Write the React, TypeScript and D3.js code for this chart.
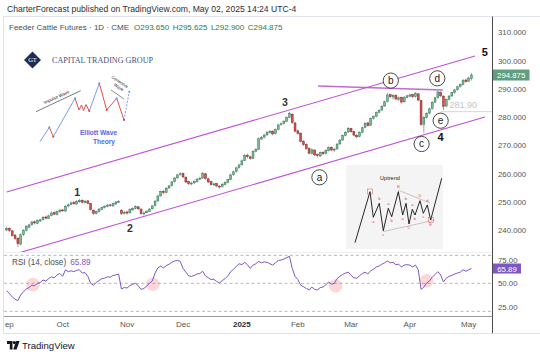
import React from "react";
import * as d3 from "d3";

// ---------- DATA ----------
// Daily OHLC, Feeder Cattle Futures (Sep 3 2024 .. May 2 2025)
const ohlc: [number, number, number, number][] = [
  [240.0, 241.2, 239.5, 240.5], [240.6, 241.0, 239.3, 239.8], [239.7, 240.0, 237.6, 238.0], [238.2, 238.6, 236.4, 237.0],
  [237.1, 237.4, 234.0, 235.2], [235.0, 238.8, 234.6, 238.3], [238.4, 240.3, 237.9, 239.8], [239.9, 241.7, 239.5, 241.2],
  [241.0, 242.2, 240.6, 241.8], [241.9, 243.3, 241.5, 242.8], [242.9, 243.4, 242.0, 242.5], [242.4, 243.8, 242.1, 243.3],
  [243.2, 244.0, 242.8, 243.6], [243.7, 245.0, 243.3, 244.5], [244.6, 245.1, 243.8, 244.2], [244.1, 245.5, 243.9, 245.0],
  [245.1, 246.6, 244.8, 246.0], [246.2, 246.5, 245.2, 245.6], [245.5, 246.9, 245.1, 246.5], [246.6, 247.6, 246.1, 247.0],
  [247.1, 247.5, 246.3, 246.8], [246.7, 248.8, 246.5, 248.4], [248.5, 249.4, 248.0, 248.9], [249.0, 250.1, 248.7, 249.6],
  [249.7, 250.2, 248.9, 249.3], [249.2, 250.6, 249.0, 250.1], [250.0, 251.0, 249.6, 250.4], [250.5, 250.9, 249.4, 249.8],
  [249.7, 250.7, 249.3, 250.2], [250.3, 250.6, 249.1, 249.5], [249.4, 249.6, 246.9, 247.2], [247.0, 247.3, 245.4, 245.9],
  [245.8, 246.9, 245.5, 246.6], [246.5, 247.8, 246.2, 247.4], [247.3, 248.3, 247.0, 247.9], [248.0, 248.8, 247.6, 248.4],
  [248.3, 249.3, 248.0, 248.8], [248.9, 249.2, 248.1, 248.6], [248.5, 249.7, 248.3, 249.3], [249.2, 250.3, 248.9, 249.9],
  [249.8, 250.6, 249.5, 250.1], [247.0, 247.4, 245.3, 245.8], [245.9, 246.8, 245.5, 246.3], [246.4, 246.7, 245.4, 246.0],
  [246.1, 247.6, 245.8, 247.2], [247.1, 248.0, 246.8, 247.6], [247.7, 248.7, 247.3, 248.3], [248.2, 248.5, 247.1, 247.5],
  [247.4, 247.6, 245.4, 245.8], [245.7, 246.5, 245.2, 246.0], [246.1, 247.0, 245.8, 246.7], [246.6, 247.8, 246.3, 247.4],
  [247.5, 248.9, 247.2, 248.5], [248.6, 250.6, 248.3, 250.2], [250.3, 252.4, 250.0, 252.0], [252.1, 254.0, 251.8, 253.6],
  [253.7, 254.2, 252.7, 253.2], [253.3, 255.2, 253.0, 254.8], [254.9, 256.0, 254.5, 255.6], [255.7, 257.4, 255.4, 257.0],
  [257.1, 258.8, 256.8, 258.4], [258.5, 259.9, 258.1, 259.5], [259.6, 260.5, 259.2, 259.9], [260.0, 260.3, 258.4, 258.8],
  [258.7, 259.0, 256.6, 257.0], [257.1, 257.5, 255.9, 256.4], [256.3, 257.1, 255.9, 256.6], [256.7, 257.6, 256.2, 257.2],
  [257.1, 258.4, 256.8, 258.0], [258.1, 258.9, 257.6, 258.3], [258.4, 260.6, 258.0, 260.0], [259.9, 260.2, 257.8, 258.2],
  [258.1, 258.5, 256.6, 257.0], [257.1, 257.4, 255.7, 256.1], [256.0, 256.8, 255.6, 256.3], [256.4, 256.7, 255.1, 255.6],
  [255.5, 256.0, 254.6, 255.3], [255.4, 256.6, 255.0, 256.2], [256.1, 257.2, 255.8, 256.8], [256.9, 258.2, 256.5, 257.8],
  [257.9, 259.9, 257.6, 259.5], [259.6, 261.0, 259.2, 260.6], [260.7, 262.4, 260.3, 262.0], [262.1, 263.5, 261.7, 263.0],
  [263.1, 265.0, 262.8, 264.5], [264.6, 266.9, 264.3, 266.4], [266.5, 267.0, 265.4, 266.0], [265.9, 266.4, 264.9, 265.3],
  [265.4, 268.2, 265.1, 267.8], [267.9, 269.0, 267.5, 268.5], [268.6, 272.8, 268.3, 272.3], [272.2, 273.3, 271.8, 272.8],
  [272.9, 274.1, 272.4, 273.6], [273.7, 275.1, 273.3, 274.6], [274.5, 275.4, 274.1, 274.9], [275.0, 275.3, 273.5, 274.0],
  [274.1, 275.9, 273.8, 275.5], [275.6, 277.6, 275.3, 277.2], [277.3, 278.1, 276.9, 277.6], [277.7, 278.9, 277.3, 278.4],
  [278.5, 280.2, 278.1, 279.8], [279.9, 281.8, 279.6, 281.2], [281.0, 281.3, 277.6, 278.0], [277.9, 278.3, 274.6, 275.0],
  [275.1, 275.6, 273.8, 274.2], [274.3, 274.6, 271.0, 271.4], [271.3, 271.9, 269.8, 270.2], [270.3, 270.7, 268.4, 268.8],
  [268.9, 269.3, 266.8, 267.2], [267.1, 268.9, 266.7, 268.4], [268.3, 268.6, 266.1, 266.6], [266.7, 267.1, 265.6, 266.3],
  [266.2, 267.8, 265.9, 267.4], [267.5, 267.9, 266.6, 267.0], [267.1, 268.6, 266.8, 268.2], [268.1, 269.6, 267.8, 269.2],
  [269.3, 269.6, 267.9, 268.3], [268.4, 269.1, 267.6, 268.6], [268.7, 270.8, 268.4, 270.4], [270.5, 272.2, 270.1, 271.8],
  [271.9, 273.8, 271.5, 273.4], [273.5, 275.0, 273.1, 274.6], [274.7, 276.5, 274.4, 276.0], [275.9, 276.2, 274.4, 274.8],
  [274.9, 275.2, 273.2, 273.6], [273.5, 274.0, 272.5, 273.0], [273.1, 274.9, 272.8, 274.5], [274.6, 276.6, 274.3, 276.2],
  [276.3, 278.2, 276.0, 277.8], [277.9, 278.3, 276.6, 277.0], [277.1, 279.8, 276.8, 279.4], [279.5, 280.6, 279.1, 280.2],
  [280.3, 282.0, 279.9, 281.6], [281.7, 282.8, 281.3, 282.4], [282.5, 284.2, 282.1, 283.8], [283.9, 285.8, 283.6, 285.4],
  [285.5, 288.6, 285.2, 287.8], [287.9, 288.3, 286.6, 287.2], [287.1, 288.1, 286.2, 287.6], [287.7, 288.0, 285.9, 286.4],
  [286.3, 287.3, 285.6, 286.8], [286.9, 287.2, 284.8, 285.3], [285.4, 287.4, 285.1, 286.9], [287.0, 287.9, 286.6, 287.5],
  [287.4, 288.3, 287.0, 287.8], [287.9, 288.2, 286.7, 287.2], [287.3, 288.8, 286.9, 288.3], [288.2, 288.5, 285.6, 286.0],
  [285.8, 286.1, 276.8, 277.4], [277.3, 280.3, 274.3, 279.8], [279.9, 281.7, 279.4, 281.3], [281.4, 283.3, 281.0, 282.9],
  [283.0, 285.6, 282.6, 285.2], [285.3, 287.2, 284.9, 286.8], [286.9, 289.3, 286.5, 288.9], [288.8, 289.1, 287.0, 287.5],
  [287.4, 287.7, 282.4, 283.8], [283.9, 286.6, 283.5, 286.2], [286.3, 287.8, 285.9, 287.4], [287.5, 289.0, 287.1, 288.6],
  [288.7, 290.0, 288.3, 289.6], [289.7, 291.1, 289.3, 290.7], [290.8, 291.9, 290.4, 291.5], [291.6, 293.5, 291.2, 293.0],
  [293.1, 293.6, 292.1, 292.6], [292.7, 294.3, 292.4, 293.8], [293.65, 295.625, 292.9, 294.875],
];

// RSI(14, close)
const rsiValues: number[] = [
  42, 39, 35.5, 33, 31.5, 37.5, 41, 44, 45.5, 48, 47.5, 50, 51, 53.5, 52.5, 55, 57, 56, 59, 60.5,
  57.5, 64.5, 62.5, 63.5, 62.5, 64, 64.5, 61, 61.5, 57.5, 50, 48, 51, 53, 55, 55.5, 57, 56.5, 58.5, 59,
  59.8, 44, 45.5, 45, 47.5, 49, 50, 47.5, 43.5, 44.5, 47, 50, 52.5, 61, 66.5, 68.5, 66.5, 69, 70.5, 72.5,
  74, 74.5, 73.5, 66, 62, 58, 57.5, 58.5, 60, 60.5, 63, 58, 56, 54, 54.5, 52, 50.5, 53, 55, 58,
  62.5, 65, 68, 71, 70, 72.5, 70, 66, 69.5, 71, 73.5, 72, 73, 72.5, 71, 69.5, 72, 74.5, 75, 76,
  77.5, 79, 66, 57.5, 54, 48, 46.5, 44.5, 43, 46, 43.5, 43, 45.5, 46, 48.5, 51.5, 49, 50, 55, 57.5,
  59.5, 61, 62, 58.5, 56, 55.5, 58, 60.5, 62, 60, 63.5, 65, 67.5, 68.5, 70.5, 72, 74, 72, 72.5, 70,
  70.5, 67.5, 69.5, 70, 69.5, 67.5, 69.5, 64.5, 43.5, 46, 50.5, 52.5, 56.5, 59.5, 62.5, 59, 51.5, 55.5,
  57.5, 58.5, 60, 61, 62, 64.5, 63, 64.5, 65.89,
];

const priceTicks = [240, 250, 260, 270, 280, 290, 300, 310];
const rsiTicks = [25, 50, 75];
const rsiBands = [80, 50, 20];
const monthLabels = ["Sep", "Oct", "Nov", "Dec", "2025", "Feb", "Mar", "Apr", "May"];
const monthStartIndex = [0, 20, 43, 63, 84, 104, 123, 144, 165];

// chart drawings in (bar index, price)
const upperChannel: [number, number][] = [[0, 253.45], [167.3, 301.6]];
const lowerChannel: [number, number][] = [[4, 231.8], [170.8, 280.0]];
const bLine: [number, number][] = [[111.2, 291.0], [155.8, 289.55]];
const levelLine = 281.9;
const waveLabels = [
  { t: "1", i: 25.2, p: 253.55, circled: false, strong: false },
  { t: "2", i: 44.05, p: 240.6, circled: false, strong: false },
  { t: "3", i: 99.4, p: 285.4, circled: false, strong: false },
  { t: "4", i: 155.0, p: 272.8, circled: false, strong: true },
  { t: "5", i: 170.8, p: 302.9, circled: false, strong: true },
  { t: "a", i: 111.7, p: 258.65, circled: true, strong: false },
  { t: "b", i: 137.2, p: 292.9, circled: true, strong: false },
  { t: "c", i: 148.2, p: 270.45, circled: true, strong: false },
  { t: "d", i: 153.8, p: 293.7, circled: true, strong: false },
  { t: "e", i: 155.0, p: 278.7, circled: true, strong: false },
];
const rsiHighlights: [number, number][] = [[9.4, 48.6], [52.2, 49], [117.5, 47.5], [150.0, 52.8]];

// decorative inset: Elliott wave sketch (local coordinates)
const ewBlue: [number, number][][] = [
  [[0, 61.7], [9.3, 47.3]],
  [[13.3, 56.7], [35, 18.3]],
  [[49.3, 31], [59.3, 3.3]],
];
const ewRed: [number, number][][] = [
  [[9.3, 47.3], [13.3, 56.7]],
  [[35, 18.3], [39, 30], [41.5, 25], [43.5, 30.5], [46, 24.5], [49.3, 31]],
  [[59.3, 3.3], [66.7, 30], [76.7, 18.3], [84, 40]],
];
const ewDashed: [number, number][] = [[84, 40], [89.3, 11.7]];

// decorative inset: Uptrend sketch (local coordinates)
const upPath: [number, number][] = [
  [9, 77.7], [24, 26.7], [27.3, 52.3], [33.3, 38.3], [37.3, 65.7], [42.3, 43.3], [45.7, 51.7], [52.3, 26.7],
  [56.7, 50], [60, 38.3], [63, 59], [66.3, 44.3], [69, 50], [74, 35.7], [77.3, 48.3], [81.3, 40], [84.7, 55], [95.7, 13.3],
];
const upLabels: [string, number, number][] = [
  ["a", 27.3, 57.5], ["b", 33.3, 35], ["c", 37.3, 71], ["a", 42.3, 40], ["b", 45.7, 57], ["B", 52.3, 23],
  ["a", 56.7, 55], ["b", 60, 35], ["C", 63, 64], ["a", 66.3, 41], ["b", 69, 55], ["D", 74, 32], ["c", 77.3, 53],
  ["d", 81.3, 37], ["E", 84.7, 61],
];

// ---------- LAYOUT ----------
const W = 540;
const H = 357;
const paneL = 4;
const axisX = 492.5;
const mainTop = 17;
const mainBottom = 252;
const rsiBottom = 316;
const FONT = "'Liberation Sans', Arial, sans-serif";

export default function App() {
  const x = d3.scaleLinear().domain([0, 166]).range([6.65, 471.45]);
  const y = d3.scaleLinear().domain([240, 310]).range([230, 32.3]);
  const yr = d3.scaleLinear().domain([25, 75]).range([306.7, 260]);

  const upColor = { fill: "#7cbd98", stroke: "#2b7351" };
  const dnColor = { fill: "#cf5650", stroke: "#8a1f1f" };
  const bw = 1.9;

  const rsiLine = d3
    .line<number>()
    .x((_, i) => x(i))
    .y((d) => yr(d));

  const seg = d3
    .line<[number, number]>()
    .x((d) => x(d[0]))
    .y((d) => y(d[1]));

  const raw = d3.line<[number, number]>();

  const last = ohlc[ohlc.length - 1][3];
  const lastRsi = rsiValues[rsiValues.length - 1];

  return (
    <div style={{ position: "absolute", left: 0, top: 0 }}>
      <svg width={W} height={H} style={{ display: "block", fontFamily: FONT }}>
        <defs>
          <clipPath id="mainClip">
            <rect x={paneL} y={mainTop} width={axisX - paneL} height={mainBottom - mainTop} />
          </clipPath>
          <clipPath id="rsiClip">
            <rect x={paneL} y={mainBottom} width={axisX - paneL} height={rsiBottom - mainBottom} />
          </clipPath>
          <clipPath id="timeClip">
            <rect x={paneL + 1} y={rsiBottom} width={axisX - paneL} height={20} />
          </clipPath>
        </defs>
        <rect width={W} height={H} fill="#ffffff" />

        {/* header */}
        <text x={7} y={12} fontSize={8.6} fill="#2a2e39">
          CharterForecast published on TradingView.com, May 02, 2025 14:24 UTC-4
        </text>
        <rect x={3.5} y={16.5} width={540} height={317} fill="none" stroke="#e0e3eb" strokeWidth={1} />

        <text x={9} y={29.5} fontSize={8} fill="#4a4e59">
          Feeder Cattle Futures · 1D · CME
          <tspan dx={5} fill="#22804f">O293.650</tspan>
          <tspan dx={3.5} fill="#22804f">H295.625</tspan>
          <tspan dx={3.5} fill="#22804f">L292.900</tspan>
          <tspan dx={3.5} fill="#22804f">C294.875</tspan>
        </text>

        {/* main pane */}
        <g clipPath="url(#mainClip)">
          {/* channel lines */}
          <path d={seg(upperChannel) || ""} stroke="#c04fd8" strokeWidth={1.1} fill="none" />
          <path d={seg(lowerChannel) || ""} stroke="#c04fd8" strokeWidth={1.1} fill="none" />
          <path d={seg(bLine) || ""} stroke="#b75ccb" strokeWidth={1.5} fill="none" opacity={0.9} />
          {/* 281.90 level */}
          <line x1={x(155)} x2={axisX} y1={y(levelLine)} y2={y(levelLine)} stroke="#d6d6d6" strokeWidth={1} />
          <text x={477} y={y(levelLine) - 4} fontSize={9} fill="#c4c4c4" textAnchor="end">
            {levelLine.toFixed(2)}
          </text>

          {/* candles */}
          {ohlc.map((d, i) => {
            const [o, h, l, c] = d;
            const up = c >= o;
            const col = up ? upColor : dnColor;
            const top = y(Math.max(o, c));
            const bot = y(Math.min(o, c));
            return (
              <g key={i}>
                <line x1={x(i)} x2={x(i)} y1={y(h)} y2={y(l)} stroke="#8d8d8d" strokeWidth={0.8} />
                <rect
                  x={x(i) - bw / 2}
                  y={top}
                  width={bw}
                  height={Math.max(0.8, bot - top)}
                  fill={col.fill}
                  stroke={col.stroke}
                  strokeWidth={0.5}
                />
              </g>
            );
          })}

          {/* wave labels */}
          {waveLabels.map((w, k) =>
            w.circled ? (
              <g key={k}>
                <circle cx={x(w.i)} cy={y(w.p)} r={7.6} fill="#ffffff" stroke="#1a1a1a" strokeWidth={0.8} />
                <text x={x(w.i)} y={y(w.p) + 3.3} fontSize={10} textAnchor="middle" fill="#1a1a1a">
                  {w.t}
                </text>
              </g>
            ) : (
              <text
                key={k}
                x={x(w.i)}
                y={y(w.p) + 4}
                fontSize={w.strong ? 11 : 10.5}
                fontWeight={w.strong ? "bold" : 600}
                textAnchor="middle"
                fill={w.strong ? "#111" : "#333"}
              >
                {w.t}
              </text>
            )
          )}

          {/* logo */}
          <g>
            <rect x={26.5} y={54} width={12} height={12} fill="#1f2d55" transform="rotate(45 32.5 60)" />
            <text x={32.5} y={62.3} fontSize={6.5} fill="#ffffff" textAnchor="middle" fontFamily="'Liberation Serif', serif">
              GT
            </text>
            <text x={52} y={62.5} fontSize={8.6} fill="#46527a" fontFamily="'Liberation Serif', serif" textLength={101} lengthAdjust="spacingAndGlyphs">
              CAPITAL TRADING GROUP
            </text>
          </g>

          {/* Elliott wave sketch */}
          <g transform="translate(40,80)">
            {ewBlue.map((p, k) => (
              <path key={"b" + k} d={raw(p) || ""} stroke="#6f8ff5" strokeWidth={0.9} fill="none" />
            ))}
            {ewRed.map((p, k) => (
              <path key={"r" + k} d={raw(p) || ""} stroke="#e53935" strokeWidth={0.9} fill="none" />
            ))}
            <path d={raw(ewDashed) || ""} stroke="#6f8ff5" strokeWidth={0.9} strokeDasharray="2,1.5" fill="none" />
            {[[9.3, 47.3], [35, 18.3], [59.3, 3.3], [76.7, 18.3], [89.3, 11.7]].map((p, k) => (
              <circle key={"c" + k} cx={p[0]} cy={p[1]} r={1} fill="#6f8ff5" />
            ))}
            {[[13.3, 56.7], [49.3, 31], [66.7, 30], [84, 40]].map((p, k) => (
              <circle key={"d" + k} cx={p[0]} cy={p[1]} r={1} fill="#e53935" />
            ))}
            <line x1={-4} y1={31.7} x2={40.7} y2={10.7} stroke="#222" strokeWidth={0.6} />
            <text x={17} y={18.5} fontSize={4.4} fill="#222" textAnchor="middle" transform="rotate(-24 17 18.5)">
              Impulse Wave
            </text>
            <text x={79} y={3} fontSize={4.2} fill="#222" textAnchor="middle" transform="rotate(33 79 3)">
              Corrective
            </text>
            <text x={78} y={8.5} fontSize={4.2} fill="#222" textAnchor="middle" transform="rotate(33 78 8.5)">
              Wave
            </text>
            <line x1={71} y1={10} x2={84} y2={19} stroke="#222" strokeWidth={0.5} />
            <text x={58.5} y={54.5} fontSize={6.6} fontWeight="bold" fill="#4a6bea" textAnchor="middle">
              Elliott Wave
            </text>
            <text x={64} y={64} fontSize={6.6} fontWeight="bold" fill="#4a6bea" textAnchor="middle">
              Theory
            </text>
          </g>

          {/* Uptrend sketch */}
          <g transform="translate(346,165)">
            <rect x={0} y={0} width={97} height={84} fill="#f4f4f4" />
            <text x={44} y={14.5} fontSize={5.6} fill="#222" textAnchor="middle">
              Uptrend
            </text>
            <line x1={52} y1={25} x2={84} y2={38} stroke="#a6a6a6" strokeWidth={0.6} />
            <line x1={37} y1={66.7} x2={89} y2={55} stroke="#a6a6a6" strokeWidth={0.6} />
            <path d={raw(upPath) || ""} stroke="#111" strokeWidth={0.9} fill="none" />
            <rect x={21.5} y={24} width={5} height={5} fill="none" stroke="#e05050" strokeWidth={0.5} />
            <rect x={82.2} y={52.5} width={5} height={5} fill="none" stroke="#e05050" strokeWidth={0.5} />
            {upLabels.map((l, k) => (
              <text key={k} x={l[1]} y={l[2]} fontSize={4.2} fill="#e05050" textAnchor="middle">
                {l[0]}
              </text>
            ))}
          </g>
        </g>

        {/* pane separator */}
        <line x1={paneL} x2={axisX} y1={mainBottom + 0.5} y2={mainBottom + 0.5} stroke="#eef0f5" />

        {/* RSI pane */}
        <g clipPath="url(#rsiClip)">
          {rsiBands.map((b) => (
            <line key={b} x1={paneL} x2={axisX} y1={yr(b)} y2={yr(b)} stroke="#9b9b9b" strokeWidth={0.7} strokeDasharray="3,2.5" />
          ))}
          {rsiHighlights.map((h, k) => (
            <circle key={k} cx={x(h[0])} cy={yr(h[1])} r={6.8} fill="#f23645" opacity={0.2} />
          ))}
          <path d={rsiLine(rsiValues) || ""} stroke="#7e57c2" strokeWidth={1} fill="none" />
        </g>
        <text x={12} y={265} fontSize={8.2} fill="#4a4e59">
          RSI (14, close)
          <tspan dx={4} fill="#7e57c2">{lastRsi.toFixed(2)}</tspan>
        </text>

        {/* price axis */}
        <line x1={axisX} x2={axisX} y1={16.5} y2={333} stroke="#4a4a4a" strokeWidth={1} />
        {priceTicks.map((t) => (
          <text key={t} x={498} y={y(t) + 3} fontSize={7.8} fill="#555">
            {t.toFixed(3)}
          </text>
        ))}
        <rect x={493} y={y(last) - 5.5} width={36.5} height={11} fill="#5f9f7f" />
        <text x={511.2} y={y(last) + 3} fontSize={7.8} fill="#ffffff" textAnchor="middle">
          {last.toFixed(3)}
        </text>

        {rsiTicks.map((t) => (
          <text key={t} x={498} y={yr(t) + 3} fontSize={7.8} fill="#555">
            {t.toFixed(2)}
          </text>
        ))}
        <rect x={493} y={yr(lastRsi) - 5} width={28} height={10} fill="#7e57c2" />
        <text x={507} y={yr(lastRsi) + 3} fontSize={7.8} fill="#ffffff" textAnchor="middle">
          {lastRsi.toFixed(2)}
        </text>

        {/* time axis */}
        <line x1={paneL} x2={axisX} y1={rsiBottom + 0.5} y2={rsiBottom + 0.5} stroke="#9a9a9a" strokeWidth={1} />
        <g clipPath="url(#timeClip)">
          {monthLabels.map((m, k) => (
            <text
              key={m}
              x={x(monthStartIndex[k])}
              y={327}
              fontSize={8}
              textAnchor="middle"
              fill={m === "2025" ? "#2a2e39" : "#555"}
              fontWeight={m === "2025" ? "bold" : "normal"}
            >
              {m}
            </text>
          ))}
        </g>

        {/* TradingView footer */}
        <g transform="translate(7,341)">
          <path d="M0 0 H5.5 V8.5 H2.8 V3 H0 Z" fill="#131722" />
          <circle cx={7.4} cy={1.6} r={1.6} fill="#131722" />
          <path d="M9.2 0 H12.6 L9.6 8.5 H6.2 Z" fill="#131722" />
        </g>
        <text x={22} y={349} fontSize={9.6} fill="#131722">
          TradingView
        </text>
      </svg>
    </div>
  );
}
